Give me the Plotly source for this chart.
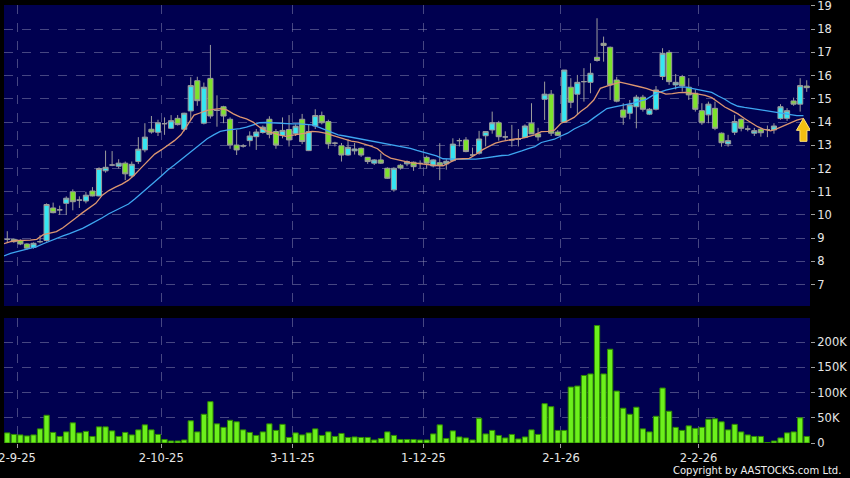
import plotly.graph_objects as go

# Daily candles (one entry per trading day)
OPEN = [8.95, 8.95, 8.9, 8.75, 8.6, 8.85, 8.9, 10.3, 10.22, 10.5,
        11.0, 10.64, 10.6, 11.03, 10.82, 11.9, 12.15, 12.1, 12.23, 11.68,
        12.3, 12.8, 13.69, 13.56, 13.93, 13.73, 14.16, 13.69, 14.48, 15.78,
        13.95, 15.88, 14.5, 14.66, 14.12, 13.01, 12.97, 13.2, 13.37, 13.55,
        14.12, 13.59, 13.42, 13.68, 13.5, 14.12, 12.77, 13.83, 14.28, 14.02,
        13.09, 12.98, 12.58, 12.76, 12.87, 12.48, 12.23, 12.37, 12.01, 11.08,
        12.14, 12.2, 12.27, 12.22, 12.48, 12.11, 12.25, 12.2, 12.34, 13.2,
        13.23, 12.58, 12.66, 13.41, 13.66, 13.97, 13.36, 13.23, 13.25, 13.34,
        13.95, 13.49, 14.98, 15.2, 13.57, 13.99, 15.5, 15.2, 15.74, 15.71,
        16.79, 17.39, 17.22, 15.81, 14.52, 14.38, 14.66, 15.07, 14.34, 14.55,
        15.96, 17.0, 15.6, 15.96, 15.5, 15.24, 14.49, 14.31, 14.59, 13.52,
        13.06, 13.56, 14.12, 13.7, 13.52, 13.69, 13.68, 13.66, 14.15, 14.16,
        14.91, 14.77, 15.55]
HIGH = [9.3, 9.0, 8.95, 8.78, 8.82, 9.13, 10.5, 10.53, 10.4, 10.8,
        11.1, 10.8, 11.0, 11.2, 12.05, 12.77, 12.75, 12.4, 12.3, 12.3,
        13.35, 13.95, 14.26, 14.1, 14.2, 14.3, 14.3, 14.4, 15.93, 15.95,
        15.7, 17.32, 15.15, 14.7, 14.2, 13.66, 13.05, 13.6, 13.7, 13.85,
        14.25, 13.7, 14.2, 14.3, 13.9, 14.35, 13.9, 14.55, 14.45, 14.1,
        13.15, 13.1, 13.25, 13.1, 12.9, 12.5, 12.4, 12.65, 12.05, 12.05,
        12.2, 12.35, 12.3, 12.35, 12.55, 12.4, 13.09, 12.4, 13.3, 13.3,
        13.35, 12.9, 13.62, 13.6, 14.45, 14.05, 13.6, 13.88, 13.7, 13.9,
        14.81, 13.75, 15.74, 15.38, 13.65, 16.24, 15.89, 16.03, 16.32, 16.53,
        18.47, 17.68, 17.25, 15.95, 14.81, 14.95, 15.17, 15.17, 14.6, 15.55,
        17.18, 17.1, 16.07, 16.03, 15.89, 15.4, 14.81, 14.88, 14.88, 13.55,
        13.45, 14.31, 14.15, 13.85, 13.75, 13.75, 13.85, 13.95, 14.77, 14.6,
        15.05, 15.89, 15.8]
LOW = [8.8, 8.8, 8.7, 8.5, 8.55, 8.78, 8.85, 10.07, 10.0, 10.0,
       10.2, 10.3, 10.5, 10.8, 10.8, 11.82, 12.1, 12.0, 11.5, 11.6,
       12.2, 12.7, 13.5, 13.4, 13.45, 13.7, 13.85, 13.6, 14.1, 14.7,
       13.9, 14.15, 13.8, 13.95, 12.85, 12.58, 12.9, 12.95, 12.8, 13.5,
       13.3, 12.85, 13.3, 12.95, 13.4, 13.05, 12.75, 13.7, 13.9, 12.85,
       12.95, 12.3, 12.55, 12.6, 12.5, 12.2, 12.15, 12.2, 11.55, 11.0,
       11.95, 12.1, 11.9, 12.0, 12.0, 12.05, 11.5, 11.95, 12.3, 12.95,
       12.7, 12.5, 12.6, 12.95, 13.5, 13.2, 13.2, 12.94, 12.95, 13.3,
       13.5, 13.2, 14.09, 13.4, 13.4, 13.97, 14.6, 14.31, 14.88, 15.24,
       16.6, 16.6, 14.95, 14.85, 13.88, 14.12, 13.73, 14.45, 14.3, 14.5,
       15.81, 15.6, 15.41, 15.31, 14.95, 14.45, 13.88, 13.95, 13.65, 12.94,
       12.94, 13.44, 13.6, 13.6, 13.4, 13.37, 13.35, 13.5, 14.1, 14.05,
       14.7, 14.45, 15.3]
CLOSE = [8.95, 8.85, 8.75, 8.57, 8.78, 8.85, 10.45, 10.1, 10.22, 10.72,
         10.57, 10.64, 10.85, 10.82, 12.0, 12.05, 12.15, 12.23, 11.77, 12.18,
         12.83, 13.35, 13.57, 13.97, 13.93, 14.06, 13.89, 14.38, 15.57, 14.92,
         15.5, 14.26, 14.5, 14.26, 13.01, 12.8, 12.97, 13.4, 13.57, 13.78,
         13.47, 13.01, 13.64, 13.23, 13.82, 13.16, 13.59, 14.28, 13.97, 13.06,
         13.09, 12.58, 12.91, 12.84, 12.58, 12.3, 12.37, 12.23, 11.58, 12.01,
         12.02, 12.3, 12.08, 12.22, 12.23, 12.37, 12.14, 12.31, 13.05, 13.2,
         12.73, 12.58, 13.27, 13.59, 13.97, 13.37, 13.36, 13.23, 13.25, 13.83,
         13.49, 13.36, 15.2, 13.52, 13.43, 16.24, 14.85, 15.71, 15.74, 16.1,
         16.65, 17.3, 15.6, 14.9, 14.21, 14.74, 15.07, 14.55, 14.55, 15.38,
         16.96, 15.74, 15.71, 15.55, 15.17, 14.55, 13.97, 14.77, 13.73, 13.11,
         13.2, 14.02, 13.73, 13.7, 13.63, 13.54, 13.68, 13.83, 14.66, 14.49,
         14.77, 15.57, 15.48]

# Moving averages (short = orange, long = blue)
MA_SHORT = [8.76, 8.85, 8.9, 8.9, 8.92, 8.95, 9.15, 9.22, 9.28, 9.45,
            9.65, 9.88, 10.1, 10.3, 10.5, 10.85, 11.05, 11.2, 11.33, 11.5,
            11.75, 12.05, 12.35, 12.62, 12.8, 13.0, 13.2, 13.45, 13.85, 14.3,
            14.4, 14.5, 14.55, 14.58, 14.52, 14.35, 14.22, 14.14, 14.0, 13.78,
            13.62, 13.52, 13.45, 13.38, 13.42, 13.46, 13.52, 13.6, 13.58, 13.52,
            13.42, 13.35, 13.26, 13.18, 13.14, 13.06, 12.96, 12.85, 12.6, 12.45,
            12.38, 12.3, 12.25, 12.22, 12.18, 12.15, 12.13, 12.12, 12.25, 12.4,
            12.42, 12.44, 12.6, 12.8, 12.95, 13.09, 13.17, 13.23, 13.27, 13.3,
            13.37, 13.45, 13.59, 13.6, 13.65, 13.95, 14.05, 14.2, 14.45, 14.66,
            14.95, 15.45, 15.55, 15.62, 15.72, 15.65, 15.57, 15.52, 15.45, 15.35,
            15.31, 15.2, 15.22, 15.27, 15.28, 15.25, 15.2, 15.15, 15.05, 14.85,
            14.65, 14.5, 14.35, 14.15, 13.98, 13.8, 13.68, 13.62, 13.72, 13.85,
            13.95, 14.08, 14.16]
MA_LONG = [8.24, 8.35, 8.42, 8.5, 8.58, 8.64, 8.76, 8.88, 9.0, 9.1,
           9.2, 9.3, 9.42, 9.57, 9.71, 9.88, 10.05, 10.2, 10.33, 10.47,
           10.7, 10.93, 11.18, 11.43, 11.68, 11.94, 12.15, 12.37, 12.6, 12.85,
           13.05, 13.28, 13.45, 13.6, 13.65, 13.68, 13.72, 13.78, 13.87, 13.97,
           13.98, 13.96, 13.95, 13.93, 13.92, 13.92, 13.9, 13.88, 13.78, 13.67,
           13.55, 13.45, 13.4, 13.35, 13.3, 13.25, 13.2, 13.14, 13.08, 13.02,
           12.97, 12.92, 12.87, 12.78, 12.7, 12.62, 12.54, 12.42, 12.4, 12.4,
           12.4, 12.4, 12.4, 12.44, 12.49, 12.53, 12.56, 12.58, 12.66, 12.76,
           12.86, 12.94, 13.12, 13.2, 13.26, 13.4, 13.52, 13.7, 13.85, 13.97,
           14.18, 14.38, 14.58, 14.64, 14.69, 14.75, 14.81, 14.9, 14.98, 15.15,
           15.28, 15.37, 15.45, 15.5, 15.5, 15.45, 15.38, 15.33, 15.28, 15.12,
           14.98, 14.8, 14.68, 14.63, 14.6, 14.55, 14.5, 14.45, 14.4, 14.35,
           14.3, 14.28, 14.28]

# Daily volume in thousands of shares
VOLUME_K = [20, 17, 16, 14, 16, 28, 55, 21, 13, 22,
            40, 20, 23, 13, 32, 32, 24, 13, 21, 16,
            26, 36, 26, 17, 7, 4, 4, 6, 44, 22,
            57, 82, 38, 31, 45, 42, 26, 21, 15, 22,
            38, 25, 37, 11, 20, 16, 20, 28, 15, 22,
            13, 19, 11, 12, 11, 11, 6, 9, 22, 15,
            7, 7, 7, 6, 6, 18, 36, 9, 24, 12,
            10, 6, 49, 18, 25, 15, 10, 17, 8, 12,
            26, 17, 78, 72, 25, 25, 111, 113, 134, 137,
            233, 137, 186, 103, 69, 57, 71, 28, 22, 53,
            109, 63, 31, 25, 34, 29, 31, 47, 48, 42,
            26, 37, 22, 16, 13, 13, 1, 4, 10, 20,
            22, 50, 13]

DATE_LABELS = ["2-9-25", "2-10-25", "3-11-25", "1-12-25", "2-1-26", "2-2-26"]
DATE_INDEX = [2, 24, 44, 64, 85, 106]
PRICE_TICKS = [7, 8, 9, 10, 11, 12, 13, 14, 15, 16, 17, 18, 19]
VOL_TICKS = [0, 50, 100, 150, 200]
VOL_TICK_TEXT = ["0", "50K", "100K", "150K", "200K"]

idx = list(range(len(CLOSE)))
ma_x = [i - 0.5 for i in idx]
grid_x = [i - 0.5 for i in DATE_INDEX]

FONT = "DejaVu Sans"
GRID = "rgba(140,140,180,0.5)"
CANDLE_EDGE = "#9C9C9C"

fig = go.Figure()

fig.add_trace(go.Candlestick(
    x=idx, open=OPEN, high=HIGH, low=LOW, close=CLOSE,
    increasing=dict(fillcolor="#35E6F2", line=dict(color=CANDLE_EDGE, width=1)),
    decreasing=dict(fillcolor="#7DE22C", line=dict(color=CANDLE_EDGE, width=1)),
    whiskerwidth=0,
    xaxis="x", yaxis="y",
    hoverinfo="skip",
))

fig.add_trace(go.Scatter(
    x=ma_x, y=MA_LONG, mode="lines",
    line=dict(color="#3EA6F0", width=1.3),
    xaxis="x", yaxis="y", hoverinfo="skip",
))
fig.add_trace(go.Scatter(
    x=ma_x, y=MA_SHORT, mode="lines",
    line=dict(color="#DC9670", width=1.3),
    xaxis="x", yaxis="y", hoverinfo="skip",
))

fig.add_trace(go.Bar(
    x=idx, y=VOLUME_K,
    marker=dict(color="#6CF01C", line=dict(color="#2F8A00", width=1)),
    xaxis="x2", yaxis="y2", hoverinfo="skip",
))

# yellow up-arrow pointing at the last short MA value
fig.add_shape(
    type="path", xref="x", yref="y",
    xsizemode="pixel", ysizemode="pixel",
    xanchor=ma_x[-1], yanchor=MA_SHORT[-1],
    path="M 0 0 L 7 -12 L 3.5 -12 L 3.5 -23 L -3.5 -23 L -3.5 -12 L -7 -12 Z",
    fillcolor="#F2BE12", line=dict(color="#FFE27A", width=1),
)

tick_font = dict(family=FONT, size=11.5, color="#E6E6E6")

fig.update_layout(
    width=850, height=478,
    margin=dict(l=4, r=40, t=5, b=35),
    paper_bgcolor="#000000",
    plot_bgcolor="#000050",
    showlegend=False,
    hovermode=False,
    bargap=0.2,
    boxgap=0.22, boxgroupgap=0,
    xaxis=dict(
        domain=[0, 1], anchor="y", range=[-0.5, len(CLOSE) - 0.5],
        tickvals=grid_x, showticklabels=False, ticks="",
        showgrid=True, gridcolor=GRID, griddash="dash", gridwidth=1,
        zeroline=False, showline=False, rangeslider=dict(visible=False),
    ),
    yaxis=dict(
        domain=[0.3128, 1], anchor="x", side="right", range=[6.08, 19.04],
        tickvals=PRICE_TICKS, ticks="outside", ticklen=4, tickcolor="#A0A0A0",
        tickfont=tick_font, ticklabeloverflow="allow",
        showgrid=True, gridcolor=GRID, griddash="dash",
        zeroline=False, showline=False, automargin=False,
    ),
    xaxis2=dict(
        domain=[0, 1], anchor="y2", matches="x",
        tickvals=grid_x, ticktext=DATE_LABELS, ticks="outside", ticklen=4,
        tickcolor="#A0A0A0", tickfont=tick_font, ticklabeloverflow="allow",
        showgrid=True, gridcolor=GRID, griddash="dash",
        zeroline=False, showline=False, automargin=False,
    ),
    yaxis2=dict(
        domain=[0, 0.2854], anchor="x2", side="right", range=[0, 248],
        tickvals=VOL_TICKS, ticktext=VOL_TICK_TEXT, ticks="outside", ticklen=4,
        tickcolor="#A0A0A0", tickfont=tick_font, ticklabeloverflow="allow",
        showgrid=True, gridcolor=GRID, griddash="dash",
        zeroline=False, showline=False, automargin=False,
    ),
)

fig.add_annotation(
    text="Copyright by AASTOCKS.com Ltd.",
    xref="paper", yref="paper", x=1.041, y=-0.062,
    xanchor="right", yanchor="middle", showarrow=False,
    font=dict(family=FONT, size=10, color="#F0F0F0"),
)

# page has a default 8px body margin; drop it so the chart sits at the window corner
fig.write_html(
    "out.html",
    config={"displayModeBar": False, "staticPlot": True},
    post_script="document.body.style.margin='0';document.body.style.overflow='hidden';",
)
